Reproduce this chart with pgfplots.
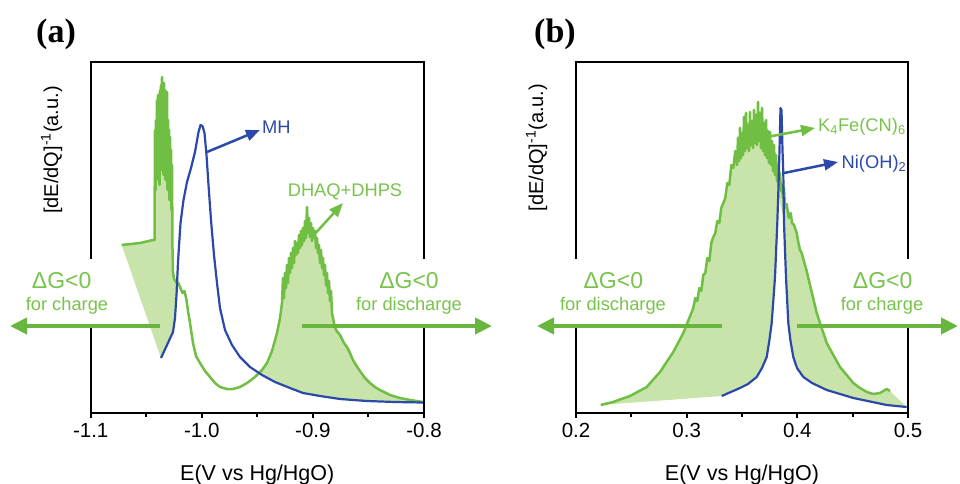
\documentclass[border=0pt]{standalone}
\usepackage{fontspec}
\setmainfont{Liberation Sans}
\newfontfamily\titlefont{Liberation Serif}
\usepackage{pgfplots}
\pgfplotsset{compat=1.18}
\usetikzlibrary{arrows.meta}
\definecolor{gline}{RGB}{112,190,68}
\definecolor{gfill}{RGB}{200,228,170}
\definecolor{gtext}{RGB}{120,195,75}
\definecolor{garrow}{RGB}{105,182,62}
\definecolor{bline}{RGB}{44,72,168}
\newcommand\fA{\fontsize{23}{27}\selectfont}
\newcommand\fB{\fontsize{18.3}{22}\selectfont}
\tikzset{frame/.style={line width=2pt, line cap=rect, black}}
\begin{document}
\begin{tikzpicture}[x=1pt,y=1pt]
\useasboundingbox (0,0) rectangle (960,483);
\pgfplotsset{
  panel/.style={
    scale only axis, height=351pt,
    ymin=0, ymax=351, clip=false,
    axis x line*=bottom, axis y line=none,
    x axis line style={-, line width=2pt, line cap=rect},
    tick align=outside,
    major tick length=5pt, minor tick length=4pt,
    tick style={black, line width=2pt},
    ytick=\empty,
    xticklabel style={font=\fontsize{20.5}{24}\selectfont, yshift=-2pt},
  },
}
% ---------------- panel (a)
\begin{axis}[panel, at={(90.7pt,70pt)}, anchor=south west, width=333.3pt,
  xmin=-1.1, xmax=-0.8,
  xtick={-1.1,-1.0,-0.9,-0.8}, xticklabels={-1.1,-1.0,-0.9,-0.8},
  minor xtick={-1.05,-0.95,-0.85}]
% fill left
\addplot[fill=gfill, draw=none] coordinates {
(-1.07210,168) (-1.05562,170) (-1.04392,173) (-1.04257,173)
(-1.04212,283) (-1.04167,223) (-1.04122,293) (-1.04077,233) (-1.04032,313) (-1.03987,243) (-1.03942,318) (-1.03897,253) (-1.03852,303) (-1.03807,228) (-1.03762,323) (-1.03717,263) (-1.03672,328) (-1.03627,243) (-1.03582,336) (-1.03537,273) (-1.03492,318) (-1.03447,238) (-1.03402,330) (-1.03357,263) (-1.03312,323) (-1.03267,233) (-1.03222,313) (-1.03177,253) (-1.03132,321) (-1.03087,223) (-1.03042,293) (-1.02997,238) (-1.02952,283) (-1.02907,213) (-1.02862,276) (-1.02817,223) (-1.02772,263) (-1.02727,203) (-1.02682,248) (-1.02637,163) (-1.02592,141) (-1.02502,134) (-1.02322,131)
(-1.02232,130)
(-1.02277,118) (-1.02412,95) (-1.02592,81) (-1.03132,68) (-1.03672,55)
} -- cycle;
% fill right
\addplot[fill=gfill, draw=none] coordinates {
(-0.94896,40) (-0.94582,43) (-0.94132,50) (-0.93682,62) (-0.93232,80) (-0.92962,95) (-0.92782,110)
(-0.92692,135) (-0.92602,115) (-0.92512,140) (-0.92422,125) (-0.92332,148) (-0.92242,130) (-0.92152,155) (-0.92062,140) (-0.91972,160) (-0.91882,145) (-0.91792,165) (-0.91702,150) (-0.91612,172) (-0.91522,158) (-0.91432,170) (-0.91342,160) (-0.91252,178) (-0.91162,165) (-0.91072,182) (-0.90982,168) (-0.90892,185) (-0.90802,172) (-0.90712,192) (-0.90622,175) (-0.90532,206) (-0.90442,180) (-0.90352,195) (-0.90262,176) (-0.90172,190) (-0.90082,172) (-0.89992,185) (-0.89902,175) (-0.89812,182) (-0.89722,165) (-0.89632,175) (-0.89542,160) (-0.89452,168) (-0.89362,150) (-0.89272,163) (-0.89182,145) (-0.89092,155) (-0.89002,138) (-0.88912,148) (-0.88822,128) (-0.88732,140) (-0.88642,120) (-0.88552,132) (-0.88462,112) (-0.88372,122) (-0.88282,100) (-0.88192,95) (-0.88102,90)
(-0.87922,83) (-0.87562,78) (-0.87202,70) (-0.86932,66) (-0.86662,60) (-0.86392,53) (-0.86122,48) (-0.85762,42) (-0.85312,35) (-0.84862,30) (-0.84412,26) (-0.83962,23) (-0.83062,18) (-0.82162,15) (-0.81262,13) (-0.80092,11)
(-0.80091,10.5) (-0.82611,11) (-0.85132,12) (-0.87562,14) (-0.89362,17) (-0.90892,20) (-0.92062,25) (-0.93412,31) (-0.94582,38)
} -- cycle;
% green curve
\addplot[gline, line width=2.5pt, line join=round] coordinates {
(-1.07210,168) (-1.05562,170) (-1.04392,173) (-1.04257,173)
(-1.04212,283) (-1.04167,223) (-1.04122,293) (-1.04077,233) (-1.04032,313) (-1.03987,243) (-1.03942,318) (-1.03897,253) (-1.03852,303) (-1.03807,228) (-1.03762,323) (-1.03717,263) (-1.03672,328) (-1.03627,243) (-1.03582,336) (-1.03537,273) (-1.03492,318) (-1.03447,238) (-1.03402,330) (-1.03357,263) (-1.03312,323) (-1.03267,233) (-1.03222,313) (-1.03177,253) (-1.03132,321) (-1.03087,223) (-1.03042,293) (-1.02997,238) (-1.02952,283) (-1.02907,213) (-1.02862,276) (-1.02817,223) (-1.02772,263) (-1.02727,203) (-1.02682,248) (-1.02637,163) (-1.02592,141) (-1.02502,134) (-1.02322,131)
(-1.02115,130) (-1.01962,126) (-1.01737,120) (-1.01557,122) (-1.01377,113) (-1.01242,102) (-1.01062,90) (-1.00792,70) (-1.00522,57) (-1.00162,50) (-0.99712,42) (-0.99262,36) (-0.98812,30) (-0.98362,26) (-0.97732,24) (-0.97192,24) (-0.96562,26) (-0.95932,30) (-0.95212,36) (-0.94582,43) (-0.94132,50) (-0.93682,62) (-0.93232,80) (-0.92962,95) (-0.92782,110)
(-0.92692,135) (-0.92602,115) (-0.92512,140) (-0.92422,125) (-0.92332,148) (-0.92242,130) (-0.92152,155) (-0.92062,140) (-0.91972,160) (-0.91882,145) (-0.91792,165) (-0.91702,150) (-0.91612,172) (-0.91522,158) (-0.91432,170) (-0.91342,160) (-0.91252,178) (-0.91162,165) (-0.91072,182) (-0.90982,168) (-0.90892,185) (-0.90802,172) (-0.90712,192) (-0.90622,175) (-0.90532,206) (-0.90442,180) (-0.90352,195) (-0.90262,176) (-0.90172,190) (-0.90082,172) (-0.89992,185) (-0.89902,175) (-0.89812,182) (-0.89722,165) (-0.89632,175) (-0.89542,160) (-0.89452,168) (-0.89362,150) (-0.89272,163) (-0.89182,145) (-0.89092,155) (-0.89002,138) (-0.88912,148) (-0.88822,128) (-0.88732,140) (-0.88642,120) (-0.88552,132) (-0.88462,112) (-0.88372,122) (-0.88282,100) (-0.88192,95) (-0.88102,90)
(-0.87922,83) (-0.87562,78) (-0.87202,70) (-0.86932,66) (-0.86662,60) (-0.86392,53) (-0.86122,48) (-0.85762,42) (-0.85312,35) (-0.84862,30) (-0.84412,26) (-0.83962,23) (-0.83062,18) (-0.82162,15) (-0.81262,13) (-0.80092,11)
};
% blue curve
\addplot[bline, line width=2.2pt, line join=round] coordinates {
(-1.03672,55) (-1.03132,68) (-1.02592,81) (-1.02412,95) (-1.02277,118) (-1.02142,151) (-1.01917,190) (-1.01647,213) (-1.01332,231) (-1.00972,245) (-1.00612,261) (-1.00297,281) (-1.00117,288) (-0.99937,287) (-0.99757,280) (-0.99577,258) (-0.99397,228) (-0.99172,193) (-0.98902,158) (-0.98632,130) (-0.98362,105) (-0.97912,83) (-0.97282,68) (-0.96562,56) (-0.95662,46) (-0.94582,38) (-0.93412,31) (-0.92062,25) (-0.90892,20) (-0.89362,17) (-0.87562,14) (-0.85132,12) (-0.82611,11) (-0.80091,10.5)
};
\draw[frame] (rel axis cs:0,0) -- (rel axis cs:0,0.2507);
\draw[frame] (rel axis cs:0,0.4416) -- (rel axis cs:0,1) -- (rel axis cs:1,1) -- (rel axis cs:1,0.4416);
\draw[frame] (rel axis cs:1,0.2507) -- (rel axis cs:1,0);
\end{axis}
% ---------------- panel (b)
\begin{axis}[panel, at={(576pt,70pt)}, anchor=south west, width=332pt,
  xmin=0.2, xmax=0.5,
  xtick={0.2,0.3,0.4,0.5}, xticklabels={0.2,0.3,0.4,0.5},
  minor xtick={0.25,0.35,0.45}]
\addplot[fill=gfill, draw=none] coordinates {
(0.22232,8) (0.23343,11) (0.24879,17) (0.26388,26) (0.27590,41) (0.28792,61) (0.29696,80) (0.30599,105) (0.30780,115) (0.30960,112) (0.31141,125) (0.31322,122) (0.31503,138) (0.31683,140) (0.31864,155) (0.32045,152) (0.32225,170) (0.32406,176) (0.32587,180) (0.32767,192) (0.32948,190) (0.33129,205) (0.33310,210) (0.33490,215) (0.33671,230) (0.33851,228) (0.34032,248) (0.34213,245) (0.34393,262)
(0.34548,248) (0.34638,275) (0.34729,252) (0.34819,285) (0.34909,255) (0.35000,280) (0.35090,258) (0.35180,296) (0.35271,262) (0.35361,300) (0.35452,265) (0.35542,288) (0.35632,262) (0.35723,301) (0.35813,268) (0.35903,292) (0.35994,265) (0.36084,303) (0.36175,270) (0.36265,298) (0.36355,268) (0.36446,311) (0.36536,272) (0.36626,300) (0.36717,265) (0.36807,305) (0.36898,262) (0.36988,290) (0.37078,258) (0.37169,293) (0.37259,255) (0.37349,282) (0.37440,250) (0.37530,281) (0.37621,248) (0.37711,272) (0.37801,242) (0.37892,268) (0.37982,238) (0.38072,258) (0.38163,232) (0.38253,248) (0.38344,228) (0.38434,240) (0.38524,222) (0.38615,228)
(0.38705,215) (0.38796,225) (0.38886,205) (0.39039,209) (0.39220,195) (0.39400,200) (0.39518,190) (0.39700,188) (0.39942,180) (0.40100,170) (0.40240,163) (0.40400,160) (0.40539,154) (0.40846,142) (0.41144,128) (0.41449,114) (0.41749,100) (0.42048,90) (0.42350,80) (0.42653,70) (0.43249,58) (0.43855,46) (0.44460,38) (0.45057,30) (0.45662,25) (0.46267,21) (0.46864,19) (0.47469,20) (0.48075,24) (0.48373,22)
(0.49882,6) (0.48075,8) (0.45057,15) (0.42653,23) (0.41325,30) (0.40539,36) (0.39969,45) (0.39635,56) (0.39382,72) (0.39183,90) (0.38975,136) (0.38795,190) (0.38280,220) (0.38189,190) (0.37982,136) (0.37828,112) (0.37683,90) (0.37466,72) (0.37232,56) (0.36807,45) (0.36328,36) (0.35542,29) (0.34819,25) (0.33165,17)
} -- cycle;
\addplot[gline, line width=2.5pt, line join=round] coordinates {
(0.22232,8) (0.23343,11) (0.24879,17) (0.26388,26) (0.27590,41) (0.28792,61) (0.29696,80) (0.30599,105) (0.30780,115) (0.30960,112) (0.31141,125) (0.31322,122) (0.31503,138) (0.31683,140) (0.31864,155) (0.32045,152) (0.32225,170) (0.32406,176) (0.32587,180) (0.32767,192) (0.32948,190) (0.33129,205) (0.33310,210) (0.33490,215) (0.33671,230) (0.33851,228) (0.34032,248) (0.34213,245) (0.34393,262)
(0.34548,248) (0.34638,275) (0.34729,252) (0.34819,285) (0.34909,255) (0.35000,280) (0.35090,258) (0.35180,296) (0.35271,262) (0.35361,300) (0.35452,265) (0.35542,288) (0.35632,262) (0.35723,301) (0.35813,268) (0.35903,292) (0.35994,265) (0.36084,303) (0.36175,270) (0.36265,298) (0.36355,268) (0.36446,311) (0.36536,272) (0.36626,300) (0.36717,265) (0.36807,305) (0.36898,262) (0.36988,290) (0.37078,258) (0.37169,293) (0.37259,255) (0.37349,282) (0.37440,250) (0.37530,281) (0.37621,248) (0.37711,272) (0.37801,242) (0.37892,268) (0.37982,238) (0.38072,258) (0.38163,232) (0.38253,248) (0.38344,228) (0.38434,240) (0.38524,222) (0.38615,228)
(0.38705,215) (0.38796,225) (0.38886,205) (0.39039,209) (0.39220,195) (0.39400,200) (0.39518,190) (0.39700,188) (0.39942,180) (0.40100,170) (0.40240,163) (0.40400,160) (0.40539,154) (0.40846,142) (0.41144,128) (0.41449,114) (0.41749,100) (0.42048,90) (0.42350,80) (0.42653,70) (0.43249,58) (0.43855,46) (0.44460,38) (0.45057,30) (0.45662,25) (0.46267,21) (0.46864,19) (0.47469,20) (0.48075,24) (0.48373,22)
};
\addplot[bline, line width=2.2pt, line join=round] coordinates {
(0.33165,17) (0.34819,25) (0.35542,29) (0.36328,36) (0.36807,45) (0.37232,56) (0.37466,72) (0.37683,90) (0.37828,112) (0.37982,136) (0.38189,190) (0.38280,220) (0.38388,263) (0.38478,305) (0.38569,303) (0.38659,263) (0.38731,240) (0.38795,190) (0.38975,136) (0.39183,90) (0.39382,72) (0.39635,56) (0.39969,45) (0.40539,36) (0.41325,30) (0.42653,23) (0.45057,15) (0.48075,8) (0.49882,6)
};
\draw[frame] (rel axis cs:0,0) -- (rel axis cs:0,0.2507);
\draw[frame] (rel axis cs:0,0.4416) -- (rel axis cs:0,1) -- (rel axis cs:1,1) -- (rel axis cs:1,0.4416);
\draw[frame] (rel axis cs:1,0.2507) -- (rel axis cs:1,0);
\end{axis}
% ---------------- annotations
\tikzset{
  bigarrow/.style={draw=garrow, line width=4pt, -{Triangle[length=17pt,width=16pt]}},
  smallarrow/.style={line width=2.5pt, -{Triangle[length=14pt,width=11pt]}},
}
% titles
\node[font=\titlefont\bfseries\fontsize{34}{40}\selectfont] at (56,449) {(a)};
\node[font=\titlefont\bfseries\fontsize{34}{40}\selectfont] at (555,449) {(b)};
% axis labels
\node[anchor=base, inner sep=0, font=\fontsize{21.5}{25}\selectfont] at (257.3,3) {E(V vs Hg/HgO)};
\node[anchor=base, inner sep=0, font=\fontsize{21.5}{25}\selectfont] at (742,3) {E(V vs Hg/HgO)};
\node[rotate=90, inner sep=0, font=\fontsize{20}{24}\selectfont] at (51.7,333) {[dE/dQ]\textsuperscript{-1}(a.u.)};
\node[rotate=90, inner sep=0, font=\fontsize{20}{24}\selectfont] at (536.7,335.4) {[dE/dQ]\textsuperscript{-1}(a.u.)};
% Delta G arrows and texts
\draw[bigarrow] (160,157) -- (10,157);
\draw[bigarrow] (302,157) -- (492,157);
\draw[bigarrow] (722,157) -- (537,157);
\draw[bigarrow] (797,157) -- (958,157);
\begin{scope}[every node/.style={text=gtext, inner sep=0, anchor=base}]
\node[font=\fA] at (61.7,194.7) {ΔG<0};
\node[font=\fB] at (67,172.3) {for charge};
\node[font=\fA] at (409,194.7) {ΔG<0};
\node[font=\fB] at (409,172.3) {for discharge};
\node[font=\fA] at (613.3,194.7) {ΔG<0};
\node[font=\fB] at (613,172.3) {for discharge};
\node[font=\fA] at (882.7,194.7) {ΔG<0};
\node[font=\fB] at (882,172.3) {for charge};
\end{scope}
% curve labels
\draw[smallarrow, draw=bline, fill=bline] (207,331) -- (260,353);
\node[anchor=west, inner sep=0, text=bline, font=\fB] at (262,355.5) {MH};
\draw[smallarrow, draw=gline, fill=gline] (312,246) -- (343,280);
\node[anchor=base, inner sep=0, text=gtext, font=\fB] at (345,286.3) {DHAQ+DHPS};
\draw[smallarrow, draw=gline, fill=gline] (767,346) -- (815,355);
\node[anchor=base west, inner sep=0, text=gtext, font=\fB] at (818,351.3) {K\textsubscript{4}Fe(CN)\textsubscript{6}};
\draw[smallarrow, draw=bline, fill=bline] (784,310) -- (838,321);
\node[anchor=base west, inner sep=0, text=bline, font=\fB] at (841.5,314.7) {Ni(OH)\textsubscript{2}};
\end{tikzpicture}
\end{document}
